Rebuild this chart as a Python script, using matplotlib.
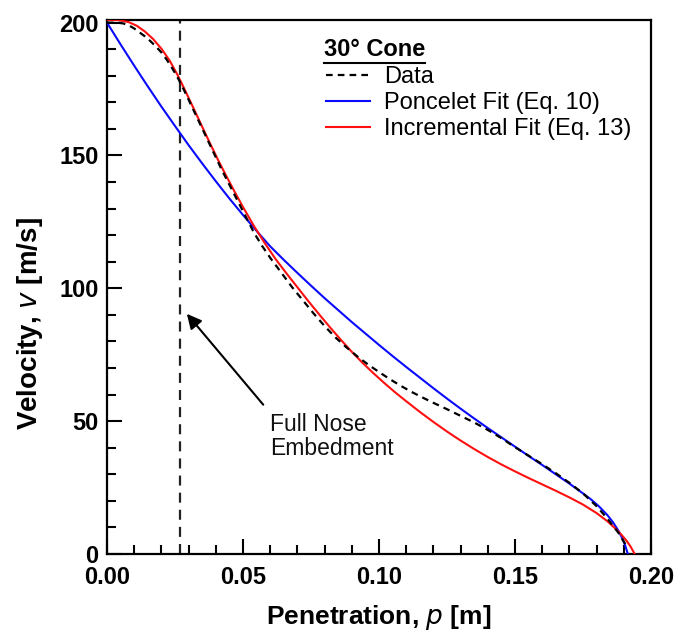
import matplotlib
matplotlib.use("Agg")
import matplotlib.pyplot as plt
from matplotlib.lines import Line2D
from matplotlib.ticker import MultipleLocator, FuncFormatter

plt.rcParams['font.family'] = ['Liberation Sans', 'DejaVu Sans']

# Measured penetration history (30 deg cone)
data_p = [0.000, 0.002, 0.004, 0.006, 0.008, 0.010, 0.012, 0.014, 0.016, 0.018,
          0.020, 0.022, 0.024, 0.026, 0.028, 0.030, 0.033, 0.036, 0.039, 0.042,
          0.045, 0.048, 0.051, 0.054, 0.057, 0.060, 0.064, 0.068, 0.072, 0.076,
          0.080, 0.084, 0.088, 0.092, 0.096, 0.100, 0.104, 0.108, 0.112, 0.116,
          0.120, 0.125, 0.130, 0.135, 0.140, 0.145, 0.150, 0.155, 0.160, 0.165,
          0.170, 0.175, 0.180, 0.184, 0.188, 0.191]
data_v = [200.0, 200.0, 200.0, 199.7, 199.0, 197.8, 196.3, 194.8, 193.0, 191.0,
          188.8, 186.0, 182.8, 179.3, 175.3, 171.0, 164.5, 158.0, 151.5, 145.0,
          139.0, 133.0, 127.0, 121.0, 116.0, 111.5, 106.0, 100.5, 95.5, 90.5,
          85.8, 81.5, 77.8, 74.4, 71.3, 68.5, 65.8, 63.3, 61.0, 58.9,
          56.9, 54.5, 52.0, 49.5, 46.7, 43.6, 40.2, 37.0, 33.8, 30.4,
          26.8, 22.8, 18.0, 13.3, 8.0, 3.0]

# Poncelet fit (Eq. 10)
poncelet_p = [0.000, 0.005, 0.010, 0.015, 0.020, 0.025, 0.030, 0.035, 0.040, 0.045,
              0.050, 0.055, 0.060, 0.065, 0.070, 0.075, 0.080, 0.085, 0.090, 0.095,
              0.100, 0.105, 0.110, 0.115, 0.120, 0.125, 0.130, 0.135, 0.140, 0.145,
              0.150, 0.155, 0.160, 0.165, 0.170, 0.175, 0.178, 0.181, 0.184, 0.186,
              0.188, 0.1895, 0.1905, 0.1915]
poncelet_v = [200.0, 191.8, 183.8, 176.0, 168.4, 161.1, 153.9, 147.0, 140.3, 133.8,
              127.6, 121.6, 115.8, 110.7, 105.8, 101.0, 96.3, 91.8, 87.3, 83.0,
              78.7, 74.5, 70.4, 66.4, 62.4, 58.5, 54.7, 51.0, 47.4, 43.9,
              40.4, 36.9, 33.5, 30.0, 26.5, 22.8, 20.5, 17.8, 14.6, 12.0,
              8.8, 5.8, 3.2, 0.0]

# Incremental fit (Eq. 13)
incr_p = [0.000, 0.004, 0.008, 0.011, 0.014, 0.017, 0.020, 0.023, 0.026, 0.029,
          0.032, 0.035, 0.038, 0.041, 0.044, 0.047, 0.050, 0.054, 0.058, 0.062,
          0.066, 0.070, 0.074, 0.078, 0.082, 0.086, 0.090, 0.094, 0.098, 0.102,
          0.106, 0.110, 0.115, 0.120, 0.125, 0.130, 0.135, 0.140, 0.145, 0.150,
          0.155, 0.160, 0.165, 0.170, 0.175, 0.180, 0.184, 0.187, 0.189, 0.191,
          0.1925, 0.194]
incr_v = [201.0, 201.0, 200.2, 198.8, 196.6, 193.8, 190.2, 185.8, 180.2, 173.9,
          167.4, 160.8, 154.3, 148.0, 142.0, 136.2, 130.6, 123.5, 117.0, 111.0,
          105.6, 100.4, 95.2, 90.2, 85.3, 80.6, 76.1, 71.9, 68.0, 64.3,
          60.8, 57.5, 53.5, 49.7, 46.1, 42.7, 39.5, 36.5, 33.7, 31.1,
          28.6, 26.2, 23.8, 21.3, 18.6, 15.4, 12.3, 9.5, 7.4, 5.0,
          2.8, 0.0]

nose_embed_p = 0.0267

fig = plt.figure(figsize=(6.86, 6.36), dpi=100)
ax = fig.add_axes([107 / 686, 1 - 554 / 636, (651 - 107) / 686, (554 - 20) / 636])

ax.axvline(nose_embed_p, color='#222222', lw=1.6, dashes=(4.5, 3.2))

ax.plot(data_p, data_v, color='black', lw=1.6, dashes=(3, 2.3), label='Data', zorder=4)
ax.plot(poncelet_p, poncelet_v, color='#0a0aff', lw=1.5, label='Poncelet Fit (Eq. 10)', zorder=3)
ax.plot(incr_p, incr_v, color='#ff1010', lw=1.5, label='Incremental Fit (Eq. 13)', zorder=3)

ax.set_xlim(0, 0.20)
ax.set_ylim(0, 201)
ax.xaxis.set_major_locator(MultipleLocator(0.05))
ax.xaxis.set_minor_locator(MultipleLocator(0.01))
ax.yaxis.set_major_locator(MultipleLocator(50))
ax.yaxis.set_minor_locator(MultipleLocator(10))
ax.xaxis.set_major_formatter(FuncFormatter(lambda x, _: f"{x:.2f}"))
ax.yaxis.set_major_formatter(FuncFormatter(lambda y, _: f"{y:.0f}"))

ax.tick_params(which='both', direction='in', width=1.5, top=False, right=False)
ax.tick_params(which='major', length=11)
ax.tick_params(which='minor', length=6.5)
ax.tick_params(axis='x', which='major', pad=9)
ax.tick_params(axis='y', which='major', pad=6)
for lab in ax.get_xticklabels() + ax.get_yticklabels():
    lab.set_fontsize(17)
    lab.set_fontweight('bold')
for s in ax.spines.values():
    s.set_linewidth(1.6)

fig.text(0.5 * (107 + 651) / 686, 1 - 617 / 636, 'Penetration, $\\mathbf{\\it{p}}$ [m]',
         ha='center', va='center', fontsize=19, fontweight='bold')
fig.text(30 / 686, 1 - 324 / 636, 'Velocity, $\\mathbf{\\it{v}}$ [m/s]',
         ha='center', va='center', rotation=90, fontsize=20, fontweight='bold')

leg = ax.legend(loc='upper left', bbox_to_anchor=((326 - 107) / 544, 1 - (66 - 20) / 534),
                frameon=False, fontsize=17, handlelength=1.85, handletextpad=0.6,
                labelspacing=0.17, borderpad=0, borderaxespad=0)

title = ax.text((324 - 107) / 544, 1 - (50 - 20) / 534, '30° Cone', transform=ax.transAxes,
                ha='left', va='center', fontsize=17, fontweight='bold')
fig.canvas.draw()
bb = title.get_window_extent().transformed(fig.transFigure.inverted())
fig.add_artist(Line2D([bb.x0, bb.x1], [bb.y0 - 0.002, bb.y0 - 0.002], transform=fig.transFigure,
                      color='black', lw=1.5))

ax.annotate('', xy=(0.0287, 91.2), xytext=(0.0581, 55.4),
            arrowprops=dict(arrowstyle='-|>', color='black', lw=1.5, mutation_scale=22))
ax.text(0.0598, 53.0, 'Full Nose\nEmbedment', ha='left', va='top', fontsize=16.5,
        linespacing=1.05, color='#111111')

fig.savefig('out.png', dpi=100, facecolor='white')
